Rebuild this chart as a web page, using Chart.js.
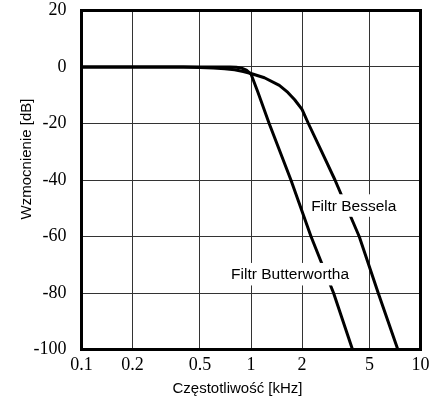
<!DOCTYPE html>
<html>
<head>
<meta charset="utf-8">
<script src="https://cdn.jsdelivr.net/npm/chart.js@4"></script>
<style>
  html, body { margin: 0; padding: 0; background: #fff; }
  #c { display: block; }
</style>
</head>
<body>
<canvas id="c" width="447" height="401"></canvas>
<script>
// ---- data ----
const freqBessel  = [0.1, 0.4, 0.5, 0.6, 0.7, 0.8, 0.9, 1.0, 1.2, 1.47, 1.65, 1.81, 2.0, 2.18, 2.6, 3.13, 4.35, 5.63, 7.35];
const gainBessel  = [0, 0, -0.15, -0.35, -0.6, -1.0, -1.6, -2.3, -3.8, -6.5, -9, -11.6, -15, -20, -29.7, -40, -60, -80, -100];
const freqButter  = [0.1, 0.5, 0.75, 0.82, 0.88, 0.94, 1.0, 1.1, 1.28, 1.72, 2.26, 3.07, 3.97];
const gainButter  = [0, 0, 0, -0.1, -0.4, -1.1, -2.5, -9, -20, -40, -60, -80, -100];
const xTicks      = [0.1, 0.2, 0.5, 1, 2, 5, 10];
const yTicks      = [-100, -80, -60, -40, -20, 0, 20];
const seriesNames = ['Filtr Bessela', 'Filtr Butterwortha'];
const xTitle = 'Częstotliwość [kHz]';
const yTitle = 'Wzmocnienie [dB]';

// label anchors (data coordinates: left edge, baseline)
const labelAnchors = [
  { text: seriesNames[0], x: 2.264, y: -50.9 },
  { text: seriesNames[1], x: 0.763, y: -75.2 }
];

const SANS = '"Liberation Sans", Arial, Helvetica, sans-serif';
const SERIF = '"Liberation Serif", "Times New Roman", serif';

const framePlugin = {
  id: 'frame',
  afterDatasetsDraw(chart) {
    const { ctx, chartArea: a, scales } = chart;
    ctx.save();
    // series labels with white boxes
    ctx.font = '15.5px ' + SANS;
    ctx.textAlign = 'left';
    ctx.textBaseline = 'alphabetic';
    labelAnchors.forEach(l => {
      const px = scales.x.getPixelForValue(l.x);
      const py = scales.y.getPixelForValue(l.y);
      const w = ctx.measureText(l.text).width;
      ctx.fillStyle = '#fff';
      ctx.fillRect(px - 3, py - 16.5, w + 6, 22.5);
      ctx.fillStyle = '#000';
      ctx.fillText(l.text, px, py);
    });
    // frame
    ctx.strokeStyle = '#000';
    ctx.lineWidth = 3;
    ctx.strokeRect(a.left, a.top, a.right - a.left, a.bottom - a.top);
    // axis titles
    ctx.font = '15px ' + SANS;
    ctx.fillStyle = '#000';
    ctx.textAlign = 'center';
    ctx.textBaseline = 'alphabetic';
    ctx.fillText(scales.x.options.title.text, 237.5, 392.5);
    ctx.translate(31, 159);
    ctx.rotate(-Math.PI / 2);
    ctx.fillText(scales.y.options.title.text, 0, 0);
    ctx.restore();
  }
};

function pts(xs, ys) { return xs.map((x, i) => ({ x: x, y: ys[i] })); }

new Chart(document.getElementById('c'), {
  type: 'line',
  data: {
    datasets: [
      { label: seriesNames[0], data: pts(freqBessel, gainBessel), borderColor: '#000', borderWidth: 3,
        pointRadius: 0, fill: false, tension: 0, borderJoinStyle: 'round' },
      { label: seriesNames[1], data: pts(freqButter, gainButter), borderColor: '#000', borderWidth: 3,
        pointRadius: 0, fill: false, tension: 0, borderJoinStyle: 'round' }
    ]
  },
  options: {
    responsive: false,
    animation: false,
    devicePixelRatio: 1,
    layout: { padding: { left: 0, top: 10.5, right: 26.5, bottom: 0 } },
    plugins: { legend: { display: false }, tooltip: { enabled: false } },
    scales: {
      x: {
        type: 'logarithmic', min: 0.1, max: 10,
        afterBuildTicks: s => { s.ticks = xTicks.map(v => ({ value: v })); },
        afterFit: s => { s.height = 51.5; s.paddingLeft = 0; s.paddingRight = 0; },
        grid: { color: '#333', lineWidth: 1, drawTicks: false },
        border: { display: false },
        title: { display: false, text: xTitle },
        ticks: { autoSkip: false, maxRotation: 0, color: '#000', padding: 5,
                 font: { family: SERIF, size: 18 }, callback: v => String(v) }
      },
      y: {
        type: 'linear', min: -100, max: 20,
        afterBuildTicks: s => { s.ticks = yTicks.map(v => ({ value: v })); },
        afterFit: s => { s.width = 81.5; s.paddingTop = 0; s.paddingBottom = 0; },
        grid: { color: '#333', lineWidth: 1, drawTicks: false },
        border: { display: false },
        title: { display: false, text: yTitle },
        ticks: { color: '#000', padding: 15, font: { family: SERIF, size: 18 }, callback: v => String(v) }
      }
    }
  },
  plugins: [framePlugin]
});
</script>
</body>
</html>
